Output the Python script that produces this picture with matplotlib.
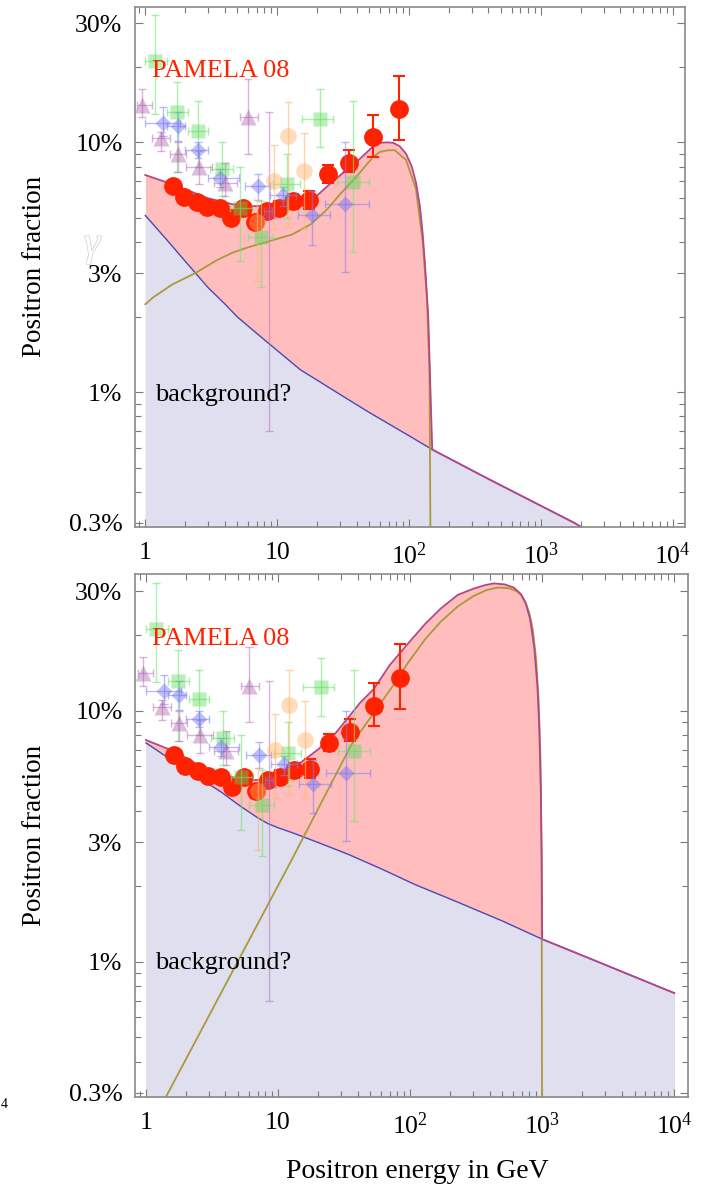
import numpy as np
import matplotlib
matplotlib.use('Agg')
import matplotlib.pyplot as plt
from matplotlib.ticker import FixedLocator, FixedFormatter, NullFormatter
import matplotlib.patheffects as pe

plt.rcParams['font.family'] = ['Liberation Serif', 'DejaVu Serif']
plt.rcParams['mathtext.fontset'] = 'custom'
plt.rcParams['mathtext.rm'] = 'Liberation Serif'
plt.rcParams['mathtext.it'] = 'Liberation Serif:italic'

# PAMELA 08 points (energy GeV, fraction, lower bound, upper bound)
pam_E = [1.63, 1.97, 2.48, 2.95, 3.70, 4.48, 5.52, 6.81, 8.40, 10.4, 13.2, 17.5, 24.3, 35.1, 53.3, 84.0]
pam_f = [0.0667, 0.0603, 0.0575, 0.0550, 0.0545, 0.0497, 0.0545, 0.0479, 0.0530, 0.0545, 0.0580, 0.0586, 0.0745, 0.0824, 0.105, 0.1355]
pam_lo = [0.064, 0.058, 0.055, 0.053, 0.052, 0.047, 0.052, 0.045, 0.050, 0.051, 0.054, 0.054, 0.069, 0.0759, 0.0871, 0.102]
pam_hi = [0.069, 0.063, 0.060, 0.057, 0.057, 0.052, 0.057, 0.051, 0.056, 0.058, 0.062, 0.064, 0.081, 0.0929, 0.129, 0.185]

# older experiments (faded)
grn_E = [1.19, 1.75, 2.52, 3.83, 5.25, 7.56, 11.9, 21.2, 37.7]
grn_f = [0.211, 0.132, 0.111, 0.078, 0.0545, 0.042, 0.068, 0.124, 0.0692]
grn_lo = [0.13, 0.076, 0.080, 0.061, 0.0334, 0.0263, 0.050, 0.0955, 0.0363]
grn_hi = [0.322, 0.174, 0.146, 0.100, 0.080, 0.058, 0.090, 0.163, 0.146]
grn_Elo = [1.0, 1.47, 2.1, 3.1, 4.4, 6.0, 9.3, 15.4, 28.5]
grn_Ehi = [1.47, 2.1, 3.0, 4.6, 6.5, 9.3, 15.0, 26.6, 50.0]

blu_E = [1.37, 1.78, 2.52, 3.70, 7.18, 11.1, 18.4, 32.7]
blu_f = [0.120, 0.116, 0.093, 0.0718, 0.0667, 0.0614, 0.051, 0.0565]
blu_lo = [0.106, 0.101, 0.0863, 0.066, 0.059, 0.0555, 0.039, 0.0302]
blu_hi = [0.139, 0.132, 0.100, 0.078, 0.075, 0.066, 0.0637, 0.100]
blu_Elo = [1.0, 1.47, 2.0, 3.0, 5.7, 8.8, 14.4, 23.0]
blu_Ehi = [1.84, 2.0, 3.0, 5.1, 8.8, 14.0, 25.0, 50.0]

pur_E = [0.95, 1.32, 1.78, 2.56, 4.04, 6.03, 8.6]
pur_f = [0.141, 0.104, 0.0895, 0.080, 0.069, 0.126, 0.053]
pur_lo = [0.126, 0.092, 0.076, 0.068, 0.061, 0.090, 0.0070]
pur_hi = [0.164, 0.110, 0.100, 0.092, 0.083, 0.180, 0.132]
pur_Elo = [0.87, 1.13, 1.55, 2.05, 3.3, 5.25, 8.0]
pur_Ehi = [1.13, 1.55, 2.05, 3.2, 5.0, 7.18, 9.2]

org_E = [7.06, 9.5, 12.1, 16.0]
org_f = [0.048, 0.0698, 0.1057, 0.0765]
org_lo = [0.028, 0.045, 0.046, 0.045]
org_hi = [0.059, 0.0973, 0.145, 0.109]

# model curves, upper panel
top_bg_E = [1, 1.5, 2, 3, 4, 5, 7, 10, 15, 20, 30, 50, 100, 150, 400, 1800, 2500]
top_bg_f = [0.051, 0.040, 0.0335, 0.0262, 0.0226, 0.0200, 0.0172, 0.0147, 0.0123, 0.0112, 0.0098,
            0.0083, 0.0067, 0.0059, 0.0045, 0.0030, 0.0027]
top_sig_E = [1, 1.15, 1.6, 2.4, 3.5, 4.6, 6, 8.4, 13, 18, 24, 30, 40, 53, 60, 70, 78, 95, 113,
             127, 137, 143, 147]
top_sig_f = [0.0225, 0.024, 0.027, 0.030, 0.0338, 0.0362, 0.038, 0.040, 0.0428, 0.047, 0.054, 0.062,
             0.073, 0.087, 0.0915, 0.093, 0.093, 0.085, 0.065, 0.040, 0.0235, 0.012, 0.001]
top_tot_E = [1, 1.6, 3, 4.6, 7, 11, 19, 25, 34, 42, 53, 60, 68, 76, 85, 95, 105, 113, 121, 127,
             132, 140, 150, 400, 1800, 2500]
top_tot_f = [0.074, 0.068, 0.0597, 0.0565, 0.0555, 0.057, 0.0597, 0.068, 0.078, 0.0855, 0.096,
             0.0995, 0.100, 0.0995, 0.0965, 0.090, 0.080, 0.069, 0.0555, 0.043, 0.033, 0.020,
             0.0059, 0.0045, 0.0030, 0.0027]

# model curves, lower panel
bot_bg_E = [1, 1.47, 2, 2.6, 3.7, 5.25, 7, 8.4, 10, 13.2, 21, 34, 60, 109, 222, 490, 1000, 2400, 10000]
bot_bg_f = [0.0745, 0.065, 0.059, 0.0535, 0.0475, 0.0415, 0.0375, 0.0355, 0.0342, 0.0325, 0.0296,
            0.0268, 0.0235, 0.0203, 0.0174, 0.0146, 0.0123, 0.0102, 0.0075]
bot_sig_E = [1.3, 1.42, 12.5, 36, 53, 75, 96, 130, 171, 230, 303, 380, 465, 560, 640, 700, 750, 800,
             850, 900, 940, 970, 990, 1000]
bot_sig_f = [0.0026, 0.0029, 0.0251, 0.0735, 0.098, 0.127, 0.155, 0.193, 0.227, 0.261, 0.287, 0.303,
             0.31, 0.308, 0.300, 0.288, 0.27, 0.245, 0.21, 0.16, 0.11, 0.065, 0.025, 0.001]
bot_tot_E = [1, 1.63, 2.6, 4, 6, 9, 13, 20, 27, 34, 42, 53, 70, 96, 130, 171, 230, 303, 370, 430,
             520, 610, 690, 750, 810, 870, 920, 950, 975, 990, 1000, 2400, 10000]
bot_tot_f = [0.0765, 0.069, 0.060, 0.055, 0.053, 0.053, 0.059, 0.070, 0.081, 0.094, 0.108, 0.122,
             0.152, 0.185, 0.222, 0.256, 0.29, 0.307, 0.317, 0.322, 0.319, 0.31, 0.292, 0.268,
             0.232, 0.179, 0.125, 0.0855, 0.05, 0.027, 0.0123, 0.0102, 0.0075]

y_ticks = [0.003, 0.01, 0.03, 0.1, 0.3]
y_labels = ['0.3%', '1%', '3%', '10%', '30%']
x_ticks = [1, 10, 100, 1000, 10000]
x_labels = ['1', '10', '$10^{2}$', '$10^{3}$', '$10^{4}$']

W, H = 705, 1184
fig = plt.figure(figsize=(W / 100, H / 100), dpi=100, facecolor='white')


def fx(x):
    return x / W


def fy(y):
    return 1 - y / H


def asym(v, lo, hi):
    v = np.array(v)
    return [v - np.array(lo), np.array(hi) - v]


def panel(ax, bg_E, bg_f, sig_E, sig_f, tot_E, tot_f):
    ax.fill_between(tot_E, tot_f, 1e-4, color='#ffbdbd', lw=0, zorder=1)
    ax.fill_between(bg_E, bg_f, 1e-4, color='#dfdfef', lw=0, zorder=1.1)
    ax.plot(bg_E, bg_f, color='#4a4ab4', lw=1.0, zorder=2)
    ax.plot(sig_E, sig_f, color='#a99a3c', lw=1.3, zorder=2.1)
    ax.plot(tot_E, tot_f, color='#b4468c', lw=1.3, zorder=2.2)

    ax.errorbar(pam_E, pam_f, yerr=asym(pam_f, pam_lo, pam_hi), fmt='o', ms=12.5,
                color='#ff2200', mec='#ff2200', ecolor='#ff2200', elinewidth=1.5,
                capsize=4, capthick=1.5, zorder=3)

    ax.errorbar(grn_E, grn_f, yerr=asym(grn_f, grn_lo, grn_hi), xerr=asym(grn_E, grn_Elo, grn_Ehi),
                fmt='s', ms=10, color=(0.35, 0.85, 0.35, 0.42), mec='none',
                ecolor=(0.45, 0.9, 0.45, 0.6), elinewidth=1, capsize=3, zorder=4)
    ax.errorbar(blu_E, blu_f, yerr=asym(blu_f, blu_lo, blu_hi), xerr=asym(blu_E, blu_Elo, blu_Ehi),
                fmt='D', ms=8.5, color=(0.45, 0.45, 0.95, 0.45), mec='none',
                ecolor=(0.5, 0.5, 1.0, 0.55), elinewidth=1, capsize=3, zorder=4)
    ax.errorbar(pur_E, pur_f, yerr=asym(pur_f, pur_lo, pur_hi), xerr=asym(pur_E, pur_Elo, pur_Ehi),
                fmt='^', ms=11, color=(0.65, 0.35, 0.65, 0.4), mec='none',
                ecolor=(0.75, 0.45, 0.75, 0.55), elinewidth=1, capsize=3, zorder=4)
    ax.errorbar(org_E, org_f, yerr=asym(org_f, org_lo, org_hi),
                fmt='o', ms=12, color=(1.0, 0.68, 0.38, 0.42), mec='none',
                ecolor=(1.0, 0.72, 0.45, 0.6), elinewidth=1, capsize=3, zorder=4)

    ax.set_xscale('log')
    ax.set_yscale('log')
    ax.xaxis.set_major_locator(FixedLocator(x_ticks))
    ax.xaxis.set_major_formatter(FixedFormatter(x_labels))
    ax.xaxis.set_minor_formatter(NullFormatter())
    ax.yaxis.set_major_locator(FixedLocator(y_ticks))
    ax.yaxis.set_major_formatter(FixedFormatter(y_labels))
    ax.yaxis.set_minor_locator(FixedLocator([0.004, 0.005, 0.006, 0.007, 0.008, 0.009, 0.02, 0.04,
                                             0.05, 0.06, 0.07, 0.08, 0.09, 0.2]))
    ax.yaxis.set_minor_formatter(NullFormatter())
    ax.tick_params(which='both', direction='in', top=True, right=True, color='#7a7a7a', width=0.8)
    ax.tick_params(which='major', length=5.5)
    ax.tick_params(which='minor', length=4)
    ax.tick_params(axis='x', labelsize=18.5, pad=11)
    ax.tick_params(axis='y', labelsize=18.5, pad=9)
    for s in ax.spines.values():
        s.set_color('#8a8a8a')
        s.set_linewidth(1.2)


ax1 = fig.add_axes([fx(135), fy(527), fx(550), 520 / H])
panel(ax1, top_bg_E, top_bg_f, top_sig_E, top_sig_f, top_tot_E, top_tot_f)
ax1.set_xlim(0.835, 12400)
ax1.set_ylim(0.00289, 0.348)

ax2 = fig.add_axes([fx(135), fy(1097), fx(553), 523 / H])
panel(ax2, bot_bg_E, bot_bg_f, bot_sig_E, bot_sig_f, bot_tot_E, bot_tot_f)
ax2.set_xlim(0.826, 12700)
ax2.set_ylim(0.00289, 0.351)

for yb_pam, yb_bg, yc in [(77, 401, 266), (645, 969, 835)]:
    fig.text(fx(152), fy(yb_pam), 'PAMELA 08', color='#ff2200', fontsize=19, va='baseline', ha='left')
    fig.text(fx(155), fy(yb_bg), 'background?', color='black', fontsize=19, va='baseline', ha='left')
    fig.text(fx(35), fy(yc), 'Positron fraction', rotation=90, fontsize=19.5, ha='center', va='center')

fig.text(fx(417), fy(1178), 'Positron energy in GeV', fontsize=20, ha='center', va='baseline')

fig.text(fx(92), fy(245), '\u03b3', fontsize=30, style='italic', color='white', ha='center', va='center',
         path_effects=[pe.withStroke(linewidth=0.9, foreground='#c8c8c8')])
fig.text(fx(1), fy(1105), '4', fontsize=10, ha='left', va='center')

plt.savefig('out.png', dpi=100, facecolor=fig.get_facecolor())
